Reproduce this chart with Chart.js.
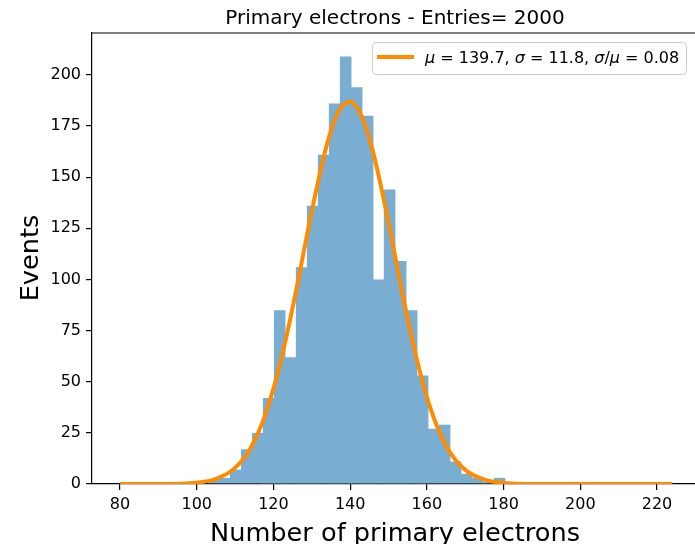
<!DOCTYPE html>
<html>
<head>
<meta charset="utf-8">
<script src="https://cdn.jsdelivr.net/npm/chart.js@4.4.1/dist/chart.umd.min.js"></script>
<style>
  html, body { margin: 0; padding: 0; background: #fff; }
  #wrap { width: 695px; height: 544px; }
</style>
</head>
<body>
<div id="wrap"><canvas id="histChart" width="695" height="544"></canvas></div>
<script>
// histogram bins (centres) and counts
const binCenters = [104.43, 107.30, 110.17, 113.03, 115.90, 118.76, 121.63, 124.50, 127.36, 130.23,
                    133.09, 135.96, 138.83, 141.69, 144.56, 147.42, 150.29, 153.16, 156.02, 158.89,
                    161.75, 164.62, 167.49, 170.35, 173.22, 176.08, 178.95];
const binCounts = [2, 3, 7, 17, 25, 42, 85, 62, 106, 136,
                   161, 186, 209, 194, 180, 100, 144, 109, 85, 53,
                   27, 29, 11, 5, 3, 1, 3];

// gaussian fit curve, sampled points
const fitX = [80, 90, 100, 105, 110, 114, 118, 122, 126, 130, 134, 137, 140, 143, 146, 150,
              154, 158, 162, 166, 170, 175, 180, 190, 200, 224];
const fitY = [0, 0.03, 0.65, 2.5, 7.9, 17.5, 34.5, 60.7, 95.3, 133.4, 166.4, 182.2, 186.9, 179.8, 162.2, 127.8,
              89.7, 56.2, 31.3, 15.6, 6.9, 2.1, 0.55, 0.02, 0, 0];

const xTicks = [80, 100, 120, 140, 160, 180, 200, 220];
const yTicks = [0, 25, 50, 75, 100, 125, 150, 175, 200];

const chartTitle = 'Primary electrons - Entries= 2000';
const xLabel = 'Number of primary electrons';
const yLabel = 'Events';
// legend text pieces: [text, italic]
const legendParts = [['μ', true], [' = 139.7, ', false], ['σ', true], [' = 11.8, ', false],
                     ['σ', true], ['/', false], ['μ', true], [' = 0.08', false]];

const FONT = "'DejaVu Sans', sans-serif";
// C0 at alpha 0.6 over white, opaque so touching bars leave no seams
const barColor = 'rgb(121, 173, 210)';
const fitColor = '#ff8c00';

// draws title, axis labels, top spine and legend
const decorPlugin = {
    id: 'decor',
    afterDraw(chart) {
        const { ctx, chartArea } = chart;
        const cx = 395;
        ctx.save();

        // top spine
        ctx.strokeStyle = '#000';
        ctx.lineWidth = 1.2;
        ctx.beginPath();
        ctx.moveTo(chartArea.left, chartArea.top);
        ctx.lineTo(chartArea.right, chartArea.top);
        ctx.stroke();

        ctx.fillStyle = '#000';
        ctx.textAlign = 'center';
        ctx.textBaseline = 'alphabetic';
        ctx.font = '20px ' + FONT;
        ctx.fillText(chartTitle, cx, 24);

        ctx.font = '25.6px ' + FONT;
        ctx.fillText(xLabel, cx, 541);

        ctx.save();
        ctx.translate(38, 258);
        ctx.rotate(-Math.PI / 2);
        ctx.fillText(yLabel, 0, 0);
        ctx.restore();

        // legend
        const bx = 372, by = 42, bw = 314, bh = 32;
        ctx.beginPath();
        ctx.roundRect(bx + 0.5, by + 0.5, bw, bh, 4);
        ctx.fillStyle = 'rgba(255,255,255,0.8)';
        ctx.fill();
        ctx.strokeStyle = '#cccccc';
        ctx.lineWidth = 1;
        ctx.stroke();

        ctx.strokeStyle = fitColor;
        ctx.lineWidth = 4;
        ctx.beginPath();
        ctx.moveTo(377, 57);
        ctx.lineTo(414, 57);
        ctx.stroke();

        ctx.fillStyle = '#000';
        ctx.textAlign = 'left';
        let tx = 425;
        legendParts.forEach(([txt, italic]) => {
            ctx.font = (italic ? 'italic ' : '') + '16px ' + FONT;
            ctx.fillText(txt, tx, 63);
            tx += ctx.measureText(txt).width;
        });
        ctx.restore();
    }
};

function axisStyle() {
    return {
        grid: { drawOnChartArea: false, drawTicks: true, offset: false, tickLength: 6, color: '#000', lineWidth: 1.2 },
        border: { display: true, color: '#000', width: 1.2 },
        ticks: { color: '#000', font: { family: FONT, size: 16 }, padding: 5, autoSkip: false, maxRotation: 0 }
    };
}

function createChart() {
    const ctx = document.getElementById('histChart').getContext('2d');
    const xAxis = axisStyle();
    const yAxis = axisStyle();
    new Chart(ctx, {
        type: 'bar',
        data: {
            datasets: [
                {
                    type: 'line',
                    label: 'fit',
                    data: fitX.map((x, i) => ({ x: x, y: fitY[i] })),
                    borderColor: fitColor,
                    borderWidth: 4,
                    pointRadius: 0,
                    fill: false,
                    cubicInterpolationMode: 'monotone',
                    order: 1
                },
                {
                    type: 'bar',
                    label: 'hist',
                    data: binCenters.map((x, i) => ({ x: x, y: binCounts[i] })),
                    backgroundColor: barColor,
                    borderWidth: 0,
                    barThickness: 11.6,
                    inflateAmount: 0,
                    grouped: false,
                    order: 2
                }
            ]
        },
        options: {
            responsive: false,
            animation: false,
            devicePixelRatio: 1,
            layout: { padding: { top: 33, right: 0, left: 0, bottom: 0 } },
            plugins: {
                legend: { display: false },
                title: { display: false },
                tooltip: { enabled: false }
            },
            scales: {
                x: Object.assign(xAxis, {
                    type: 'linear',
                    min: 72.7,
                    max: 229.9,
                    offset: false,
                    afterFit: s => { s.height = 60; },
                    afterBuildTicks: s => { s.ticks = xTicks.map(v => ({ value: v })); }
                }),
                y: Object.assign(yAxis, {
                    type: 'linear',
                    min: 0,
                    max: 220.5,
                    afterFit: s => { s.width = 92; },
                    afterBuildTicks: s => { s.ticks = yTicks.map(v => ({ value: v })); }
                })
            }
        },
        plugins: [decorPlugin]
    });
}

window.addEventListener('load', createChart);
</script>
</body>
</html>
